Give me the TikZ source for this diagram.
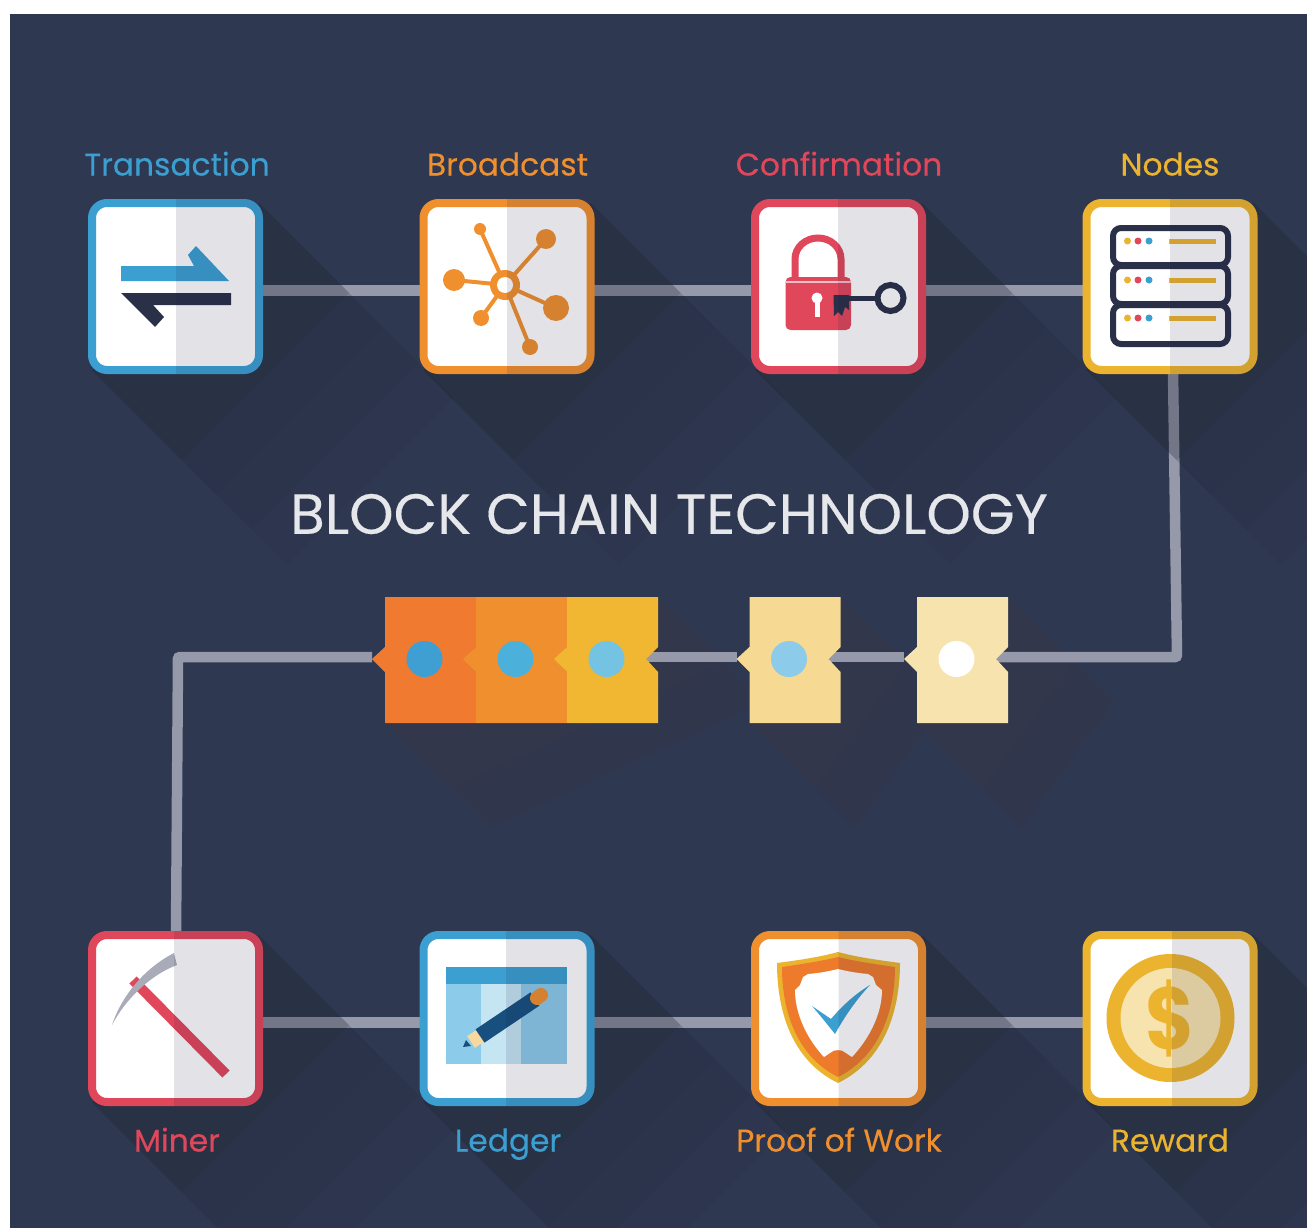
\documentclass[tikz,border=0pt]{standalone}
\usepackage{fontspec}
\setmainfont{Poppins}
\usepackage{xcolor}
\usetikzlibrary{positioning}
\definecolor{bgc}{HTML}{2E3850}
\definecolor{bluec}{HTML}{3B9FD1}
\definecolor{orangec}{HTML}{EF8F2E}
\definecolor{redc}{HTML}{E0475B}
\definecolor{yellowc}{HTML}{ECB42E}
\definecolor{wirec}{HTML}{9599A9}
\definecolor{darkc}{HTML}{2A3048}
\definecolor{shadec}{HTML}{20222F}
\definecolor{halfc}{HTML}{1C1C40}
\definecolor{creamc}{HTML}{F7E3AE}
\definecolor{blocka}{HTML}{F07A30}
\definecolor{blockc}{HTML}{F1B732}
\definecolor{blockd}{HTML}{F6D993}
\definecolor{dota}{HTML}{3F9FD2}
\definecolor{dotb}{HTML}{4BB0DA}
\definecolor{dotc}{HTML}{74C3E3}
\definecolor{dotd}{HTML}{8CCBE9}
\definecolor{warmc}{HTML}{35374A}
\definecolor{pickc}{HTML}{A9ACB8}
\definecolor{paleb}{HTML}{C5E5F3}
\definecolor{pencilc}{HTML}{17507F}
\definecolor{tipc}{HTML}{F7D9A0}
\definecolor{shieldc}{HTML}{EE7A2C}
\pgfdeclarelayer{bglayer}
\pgfdeclarelayer{wirelayer}
\pgfdeclarelayer{shadelayer}
\pgfsetlayers{bglayer,wirelayer,shadelayer,main}
\tikzset{icon box/.style={draw=#1,fill=white,line width=8pt,rounded corners=15pt,minimum size=167pt,inner sep=0pt,outer sep=0pt},
	wire/.style={draw=wirec,line width=10.5pt},
	lbl/.style={font=\fontsize{31.3}{31}\selectfont\addfontfeature{FakeBold=.3},text height=22pt,text depth=7pt,inner sep=0pt},
	chain dot/.style={circle,minimum size=36pt,inner sep=0pt}}
\newcommand{\longshadow}[1]{%
	\foreach \len/\op in {90/.12,125/.08,160/.06,195/.05}
		\fill[shadec,opacity=\op] (#1.north east) -- (#1.south west) -- ++(\len,\len) -- ([xshift=\len pt,yshift=-\len pt]#1.north east) -- cycle;}
\newcommand{\darkhalf}[2]{%
	\begin{scope}
		\clip (#2,0) rectangle (1307,1228);
		\fill[halfc,opacity=.12,rounded corners=19pt] ([xshift=-4pt,yshift=-4pt]#1.south west) rectangle ([xshift=4pt,yshift=4pt]#1.north east);
	\end{scope}}
\newcommand{\chainblock}[4]{%
	\fill[#3] (#2,597) -- (#2+91,597) -- (#2+91,647) -- (#2+79,659) -- (#2+91,672) -- (#2+91,723) -- (#2,723) -- (#2,672) -- (#2-13,659) -- (#2,647) -- cycle;
	\node[chain dot,fill=#4] (#1) at (#2+39.5,659) {};
	\coordinate (#1l) at (#2-13,657);
	\coordinate (#1r) at (#2+79,657);}
\begin{document}
\begin{tikzpicture}[x=1pt,y=-1pt]
	\useasboundingbox (0,0) rectangle (1307,1228);

	\node[icon box=bluec] (tx) at (175.5,286.5) {};
	\node[icon box=orangec, right=164.5pt of tx] (bc) {};
	\node[icon box=redc, right=164.5pt of bc] (cf) {};
	\node[icon box=yellowc, right=164.5pt of cf] (nd) {};
	\node[icon box=redc] (mn) at (175.5,1018.5) {};
	\node[icon box=bluec, right=164.5pt of mn] (lg) {};
	\node[icon box=orangec, right=164.5pt of lg] (pw) {};
	\node[icon box=yellowc, right=164.5pt of pw] (rw) {};

	\node[lbl, text=bluec] (txl) at (177,168) {Transaction};
	\node[lbl, text=orangec] (bcl) at (507.5,168) {Broadcast};
	\node[lbl, text=redc] (cfl) at (839,168) {Confirmation};
	\node[lbl, text=yellowc] (ndl) at (1170,168) {Nodes};
	\node[lbl, text=redc] (mnl) at (177,1144) {Miner};
	\node[lbl, text=bluec] (lgl) at (508,1144) {Ledger};
	\node[lbl, text=orangec] (pwl) at (839,1144) {Proof of Work};
	\node[lbl, text=yellowc] (rwl) at (1170,1144) {Reward};
	\node[text=white!88!bgc, font=\fontsize{56.5}{56}\selectfont\addfontfeature{FakeBold=.25}, inner sep=0pt] (title) at (669,514) {BLOCK CHAIN TECHNOLOGY};

	\chainblock{bo}{385}{blocka}{dota}
	\chainblock{bp}{476}{orangec}{dotb}
	\chainblock{bq}{567}{blockc}{dotc}
	\chainblock{br}{749.5}{blockd}{dotd}
	\chainblock{bs}{917}{creamc}{white}
	\coordinate (cornerr) at (1177,657);
	\coordinate (cornerl) at (178,657);
	\coordinate (ndout) at (1173,370);
	\coordinate (mnin) at (176,936);

	\begin{pgfonlayer}{bglayer}
		\fill[white] (0,0) rectangle (1307,1228);
		\fill[bgc] (10,14) rectangle (1307,1228);
		\foreach \a/\b in {385/658,749.5/840.5,917/1008}
			\foreach \len/\op in {65/.5,105/.4}
				\fill[warmc,opacity=\op] (\b,597) -- (\a,723) -- ++(\len,\len) -- (\b+\len,597+\len) -- cycle;
	\end{pgfonlayer}

	\begin{pgfonlayer}{wirelayer}
		\draw[wire] ([yshift=-4pt]tx.east) -- ([yshift=-4pt]bc.west);
		\draw[wire] ([yshift=-4pt]bc.east) -- ([yshift=-4pt]cf.west);
		\draw[wire] ([yshift=-4pt]cf.east) -- ([yshift=-4pt]nd.west);
		\draw[wire] ([yshift=-4pt]mn.east) -- ([yshift=-4pt]lg.west);
		\draw[wire] ([yshift=-4pt]lg.east) -- ([yshift=-4pt]pw.west);
		\draw[wire] ([yshift=-4pt]pw.east) -- ([yshift=-4pt]rw.west);
		\draw[wire,rounded corners=2pt] (ndout) -- (cornerr) -- (bsr);
		\draw[wire] (bsl) -- (brr);
		\draw[wire] (brl) -- (bqr);
		\draw[wire,rounded corners=2pt] (bol) -- (cornerl) -- (mnin);
	\end{pgfonlayer}

	\begin{pgfonlayer}{shadelayer}
		\begin{scope}
			\clip (10,14) rectangle (1307,1228);
			\foreach \n in {tx,bc,cf,nd,mn,lg,pw,rw} {
				\longshadow{\n}
			}
		\end{scope}
	\end{pgfonlayer}

	% Transaction
	\fill[bluec] (121,266) -- (194,266) -- (188,255) -- (196,246) -- (229,281) -- (121,281) -- cycle;
	\fill[darkc] (231,293) -- (121,293) -- (155,327) -- (164,317) -- (153,305) -- (231,305) -- cycle;
	\darkhalf{tx}{176}

	% Broadcast
	\draw[orangec,line width=4pt] (480,229) -- (505,285) -- (530,347);
	\draw[orangec,line width=4pt] (546,239) -- (505,285) -- (481,318);
	\draw[orangec,line width=4pt] (454,280) -- (505,285) -- (556,308);
	\foreach \px/\py/\pr in {480/229/6,546/239/10,454/280/11,556/308/13,481/318/8,530/347/8}
		\fill[orangec] (\px,\py) circle (\pr);
	\fill[orangec] (505,285) circle (15);
	\fill[white] (505,285) circle (8);
	\darkhalf{bc}{507}

	% Confirmation
	\draw[redc,line width=7pt] (795,280) -- (795,259) arc[start angle=180,end angle=360,x radius=23,y radius=21] -- (841,280);
	\fill[redc,rounded corners=5pt] (785.5,277) rectangle (851,330);
	\fill[white!65!redc] (785.5,281) rectangle (851,283);
	\fill[white] (817,298) circle (5.5);
	\fill[white] (814.5,298) rectangle (819.5,317);
	\draw[darkc,line width=5pt] (835,298) -- (878,298);
	\draw[darkc,line width=6pt] (890.5,298) circle (13);
	\fill[darkc] (833.5,295) -- (849,295) -- (849,310) -- (845,307) -- (842,316) -- (838,312) -- (834,316) -- cycle;
	\darkhalf{cf}{838}

	% Nodes
	\foreach \ya/\yb/\yd in {228/265/241,266/304/280,305/344/318} {
		\draw[darkc,line width=6pt,rounded corners=8pt] (1113,\ya) rectangle (1228,\yb);
		\fill[yellowc] (1127.5,\yd) circle (3.5);
		\fill[redc] (1138,\yd) circle (3.5);
		\fill[bluec] (1149,\yd) circle (3.5);
		\draw[yellowc,line width=5pt] (1169,\yd) -- (1216,\yd);
	}
	\darkhalf{nd}{1170}

	% Miner
	\draw[redc,line width=10pt] (133,980) -- (226,1074);
	\fill[pickc] (112,1025) .. controls (122,995) and (145,968) .. (174,953) -- (177,965) .. controls (150,975) and (125,1000) .. (112,1025) -- cycle;
	\darkhalf{mn}{174}

	% Ledger
	\fill[dotd] (446,983) rectangle (567,1064);
	\fill[paleb] (481,983) rectangle (521,1064);
	\fill[bluec] (446,967) rectangle (567,984);
	\draw[tipc,line width=14pt] (471,1042) -- (480,1036);
	\draw[pencilc,line width=16pt] (480,1036) -- (535,999);
	\draw[orangec,line width=14pt,line cap=round] (537,998) -- (541,995);
	\fill[pencilc] (463,1047) -- (466,1040) -- (471,1046) -- cycle;
	\darkhalf{lg}{506}

	% Proof of Work
	\fill[yellowc] (777,963) .. controls (800,960) and (820,957) .. (838,952) .. controls (856,957) and (878,960) .. (900,963) .. controls (900,1010) and (885,1060) .. (838,1083) .. controls (791,1060) and (777,1010) .. (777,963) -- cycle;
	\fill[shieldc] (782,967) .. controls (802,964) and (822,961) .. (838,957) .. controls (854,961) and (874,964) .. (895,967) .. controls (895,1010) and (880,1056) .. (838,1077) .. controls (796,1056) and (782,1010) .. (782,967) -- cycle;
	\fill[white] (795,990) -- (800,985) -- (803,977) -- (808,974) .. controls (820,973) and (830,971) .. (838,969) .. controls (846,971) and (856,973) .. (868,974) -- (873,977) -- (876,985) -- (882,990) .. controls (882,1015) and (868,1040) .. (852,1057) -- (846,1053) .. controls (842,1049) and (834,1049) .. (830,1053) -- (824,1057) .. controls (808,1040) and (795,1015) .. (795,990) -- cycle;
	\fill[bluec] (812,1006) -- (831,1019) .. controls (842,1006) and (855,994) .. (870,985) .. controls (856,1000) and (845,1016) .. (835,1034) .. controls (827,1024) and (819,1014) .. (812,1006) -- cycle;
	\darkhalf{pw}{838.5}

	% Reward
	\fill[yellowc] (1170.5,1018) circle (64);
	\fill[creamc] (1170.5,1018) circle (50);
	\node[text=yellowc, font=\fontsize{88}{88}\bfseries\selectfont, inner sep=0pt, xscale=.85] (dollar) at (1170.5,1018) {\$};
	\darkhalf{rw}{1172}
\end{tikzpicture}
\end{document}
